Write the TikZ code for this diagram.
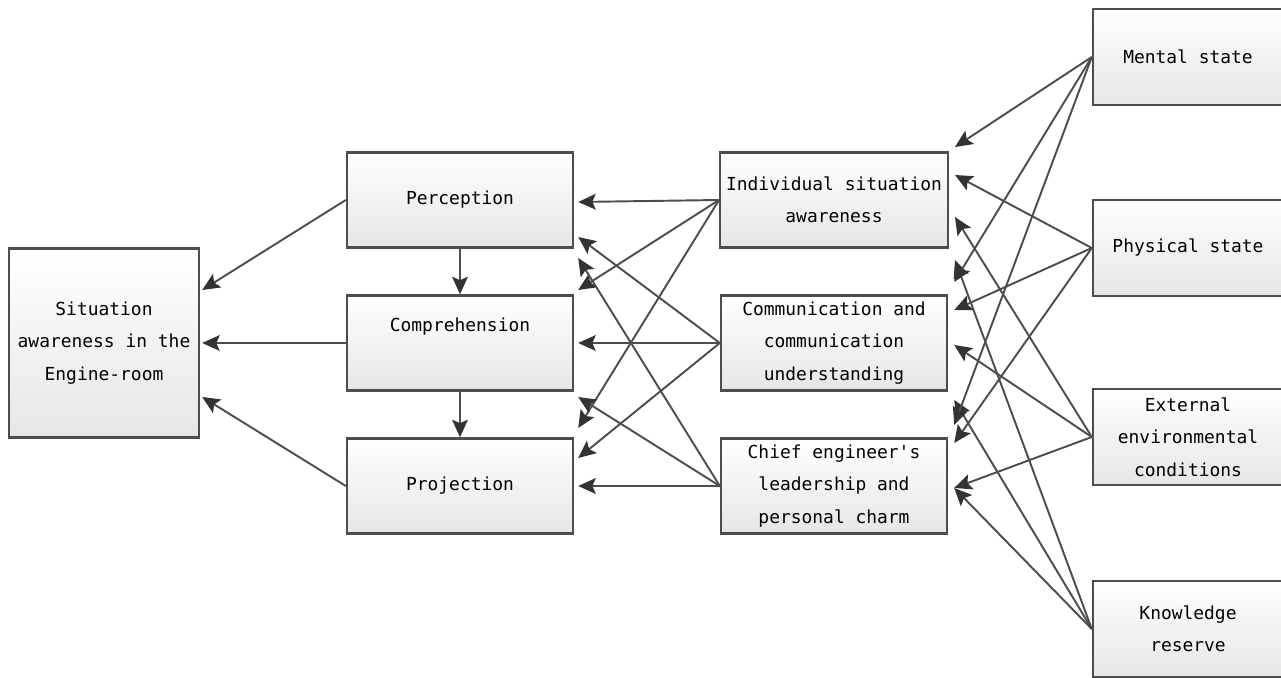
\documentclass[tikz,border=0pt]{standalone}
\usepackage{fontspec}
\setmonofont{DejaVu Sans Mono}
\usetikzlibrary{arrows.meta,calc}
\definecolor{edgegray}{HTML}{4D4D4D}
\definecolor{tipgray}{HTML}{333333}
\definecolor{boxgray}{HTML}{E6E6E6}

\begin{document}
\begin{tikzpicture}[x=0.02cm,y=-0.02cm,
        blk/.style={draw=edgegray,line width=1.4pt,top color=white,bottom color=boxgray,
            minimum width=4.52cm,minimum height=1.9cm,align=center,
            font=\ttfamily\fontsize{10.2}{18.5}\selectfont},
        sidebox/.style={blk,minimum width=3.8cm,minimum height=1.92cm},
        arr/.style={draw=edgegray,line width=1.1pt,-{Stealth[length=10pt,width=9pt,inset=2pt,color=tipgray]}}]
                \useasboundingbox (0,0) rectangle (1281,678);

                \node[blk,minimum width=3.8cm,minimum height=3.78cm] (sit) at (104,343) {Situation\\awareness in the\\Engine-room};

                \node[blk] (perc) at (460,200) {Perception};
                \node[blk] (comp) at (460,343) {\raisebox{0.72cm}{Comprehension}};
                \node[blk] (proj) at (460,486) {Projection};

                \node[blk] (indiv) at (834,200) {Individual situation\\awareness};
                \node[blk] (comm) at (834,343) {Communication and\\communication\\understanding};
                \node[blk] (chief) at (834,486) {Chief engineer's\\leadership and\\personal charm};

                \node[sidebox] (mental) at (1188,57) {Mental state};
                \node[sidebox] (phys) at (1188,248) {Physical state};
                \node[sidebox] (ext) at (1188,437) {External\\environmental\\conditions};
                \node[sidebox] (know) at (1188,629) {Knowledge\\reserve};

                \draw[arr] (perc.west) -- ($(sit.east)+(2,-53)$);
                \draw[arr] (comp.west) -- ($(sit.east)+(2,0)$);
                \draw[arr] (proj.west) -- ($(sit.east)+(2,54)$);
                \draw[arr] (perc.south) -- (comp.north);
                \draw[arr] (comp.south) -- (proj.north);

                \foreach \src/\dst/\dy in {indiv/perc/2, indiv/comp/-53, indiv/proj/-58,
                        comm/perc/37, comm/comp/0, comm/proj/-28,
                        chief/perc/58, chief/comp/54, chief/proj/0}
                    \draw[arr] (\src.west) -- ($(\dst.east)+(4,\dy)$);

                \foreach \src/\dst/\dy in {mental/indiv/-53, phys/indiv/-25, ext/indiv/17, know/indiv/60,
                        mental/comm/-61, phys/comm/-33, ext/comm/2, know/comm/57,
                        mental/chief/-61, phys/chief/-43, ext/chief/2, know/chief/2}
                    \draw[arr] (\src.west) -- ($(\dst.east)+(6,\dy)$);
            \end{tikzpicture}
\end{document}
